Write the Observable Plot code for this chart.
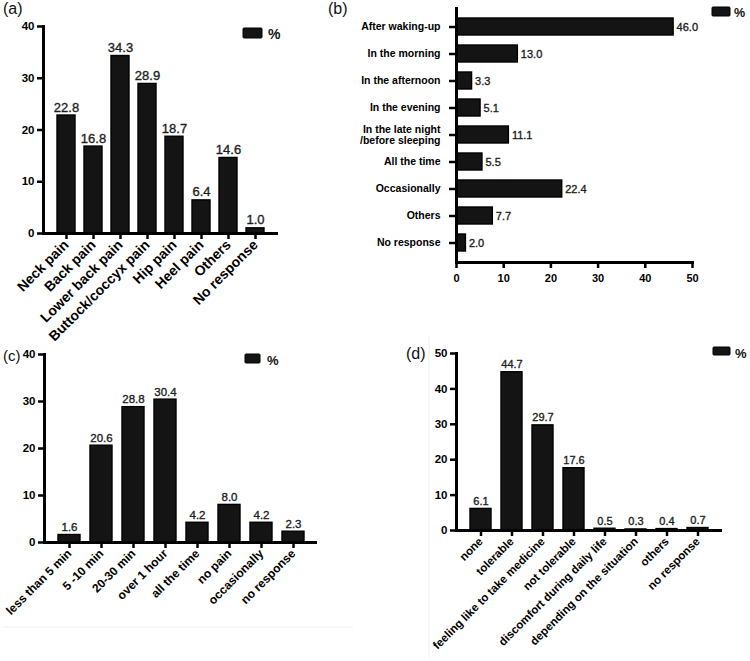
<!DOCTYPE html>
<html>
<head>
<meta charset="utf-8">
<script src="https://cdn.jsdelivr.net/npm/d3@7"></script>
<script src="https://cdn.jsdelivr.net/npm/@observablehq/plot@0.6"></script>
<style>
  body { margin: 0; background: #fff; }
  #root { position: relative; width: 750px; height: 661px; overflow: hidden; background: #fff; }
  .panel { position: absolute; }
  .panel svg { overflow: visible; }
</style>
</head>
<body>
<div id="root"></div>
<script>
// ---- data ----
const catsA = ["Neck pain", "Back pain", "Lower back pain", "Buttock/coccyx pain", "Hip pain", "Heel pain", "Others", "No response"];
const valsA = [22.8, 16.8, 34.3, 28.9, 18.7, 6.4, 14.6, 1.0];

const catsB = ["After waking-up", "In the morning", "In the afternoon", "In the evening", "In the late night\n/before sleeping", "All the time", "Occasionally", "Others", "No response"];
const valsB = [46.0, 13.0, 3.3, 5.1, 11.1, 5.5, 22.4, 7.7, 2.0];

const catsC = ["less than 5 min", "5 -10 min", "20-30 min", "over 1 hour", "all the time", "no pain", "occasionally", "no response"];
const valsC = [1.6, 20.6, 28.8, 30.4, 4.2, 8.0, 4.2, 2.3];

const catsD = ["none", "tolerable", "feeling like to take medicine", "not tolerable", "discomfort during daily life", "depending on the situation", "others", "no response"];
const valsD = [6.1, 44.7, 29.7, 17.6, 0.5, 0.3, 0.4, 0.7];

const ticksA = [0, 10, 20, 30, 40];
const ticksB = [0, 10, 20, 30, 40, 50];
const ticksC = [0, 10, 20, 30, 40];
const ticksD = [0, 10, 20, 30, 40, 50];

const legendLabel = "%";
const panelLetters = ["(a)", "(b)", "(c)", "(d)"];

// ---- helpers ----
const font = "'Liberation Sans', Arial, Helvetica, sans-serif";
const root = document.getElementById("root");
const toRows = (cats, vals) => cats.map((c, i) => ({cat: c, val: vals[i]}));
const fmt = d => d.val.toFixed(1);
const barFill = "#141414";
const ink = "#000";
const lineW = 3;
const tickW = 2.5;

function place(el, left, top) {
  const w = document.createElement("div");
  w.className = "panel";
  w.style.left = left + "px";
  w.style.top = top + "px";
  w.append(el);
  root.append(w);
}

const baseStyle = {fontFamily: font, background: "transparent", overflow: "visible", color: ink};

function vbars({cats, vals, ticks, width, height, mt, mb, ml, mr, pi, po, ymax, valSize, tickSize, ytickSize}) {
  const rows = toRows(cats, vals);
  return Plot.plot({
    width, height, marginTop: mt, marginBottom: mb, marginLeft: ml, marginRight: mr,
    style: baseStyle,
    x: {domain: cats, paddingInner: pi, paddingOuter: po},
    y: {domain: [0, ymax]},
    marks: [
      Plot.barY(rows, {x: "cat", y: "val", fill: barFill, stroke: "#000", strokeWidth: 1.4}),
      Plot.text(rows, {x: "cat", y: "val", text: fmt, dy: -4, lineAnchor: "bottom", fontSize: valSize, fill: "#1e1e1e", stroke: "#1e1e1e", strokeWidth: 0.35}),
      Plot.frame({anchor: "left", stroke: ink, strokeWidth: lineW}),
      Plot.ruleY([0], {stroke: ink, strokeWidth: lineW}),
      Plot.axisY({ticks, tickSize: 6, tickPadding: 3, fontSize: ytickSize, fontWeight: "bold", stroke: ink, strokeWidth: tickW, label: null}),
      Plot.axisX({tickRotate: -45, tickSize: 6, tickPadding: 3, fontSize: tickSize, fontWeight: "bold", stroke: ink, strokeWidth: tickW, label: null})
    ]
  });
}

// ---- panel (a) ----
place(vbars({cats: catsA, vals: valsA, ticks: ticksA, width: 380, height: 345, mt: 26, mb: 112, ml: 43, mr: 102,
  pi: 0.335, po: 0.39, ymax: 40, valSize: 13, tickSize: 14, ytickSize: 11.5}), 0, 0);

// ---- panel (b) ----
(() => {
  const rows = toRows(catsB, valsB);
  const p = Plot.plot({
    width: 370, height: 310, marginTop: 7, marginBottom: 48, marginLeft: 76, marginRight: 58,
    style: baseStyle,
    x: {domain: [0, 50]},
    y: {domain: catsB, paddingInner: 0.36, paddingOuter: 0.38},
    marks: [
      Plot.barX(rows, {y: "cat", x: "val", fill: barFill, stroke: "#000", strokeWidth: 1.4}),
      Plot.text(rows, {y: "cat", x: "val", text: fmt, dx: 3, textAnchor: "start", fontSize: 11, fill: "#1e1e1e", stroke: "#1e1e1e", strokeWidth: 0.35}),
      Plot.ruleX([0], {stroke: ink, strokeWidth: lineW}),
      Plot.frame({anchor: "bottom", stroke: ink, strokeWidth: lineW}),
      Plot.axisY({tickSize: 7, tickPadding: 9, fontSize: 10.5, fontWeight: "bold", stroke: ink, strokeWidth: tickW, label: null}),
      Plot.axisX({ticks: ticksB, tickSize: 6, tickPadding: 6, fontSize: 11, fontWeight: "bold", stroke: ink, strokeWidth: tickW, label: null})
    ]
  });
  place(p, 380, 0);
})();

// ---- panel (c) ----
place(vbars({cats: catsC, vals: valsC, ticks: ticksC, width: 380, height: 320, mt: 14, mb: 118, ml: 44, mr: 63,
  pi: 0.317, po: 0.4, ymax: 40, valSize: 11.5, tickSize: 12, ytickSize: 11.5}), 0, 340);

// ---- panel (d) ----
place(vbars({cats: catsD, vals: valsD, ticks: ticksD, width: 370, height: 321, mt: 13, mb: 131, ml: 76, mr: 28,
  pi: 0.31, po: 0.365, ymax: 50, valSize: 11, tickSize: 11.5, ytickSize: 11.5}), 380, 340);

// ---- overlay: panel letters, legends, faint page edges ----
const ns = "http://www.w3.org/2000/svg";
const ov = document.createElementNS(ns, "svg");
ov.setAttribute("width", 750); ov.setAttribute("height", 661);
ov.style.cssText = "position:absolute;left:0;top:0;pointer-events:none;font-family:" + font;
function add(tag, attrs, txt) {
  const e = document.createElementNS(ns, tag);
  for (const k in attrs) e.setAttribute(k, attrs[k]);
  if (txt != null) e.textContent = txt;
  ov.append(e);
}
add("line", {x1: 429, y1: 335, x2: 429, y2: 658, stroke: "#efefef", "stroke-width": 1});
add("line", {x1: 3, y1: 627, x2: 353, y2: 627, stroke: "#efefef", "stroke-width": 1});
const letters = [[3, 14, 16], [328, 14, 16], [3, 361, 15], [406, 359, 16]];
letters.forEach(([x, y, s], i) => add("text", {x, y, "font-size": s, fill: "#111"}, panelLetters[i]));
const legends = [
  [243, 28, 19, 10, 268, 39, 14],
  [712, 7, 18, 9, 734, 17, 12.5],
  [245, 354, 15, 9, 267, 365, 13],
  [713, 347, 17, 8, 735, 357.5, 13]
];
legends.forEach(([rx, ry, rw, rh, tx, ty, fs]) => {
  add("rect", {x: rx, y: ry, width: rw, height: rh, fill: barFill, stroke: "#000", "stroke-width": 1, rx: 1});
  add("text", {x: tx, y: ty, "font-size": fs, "font-weight": "bold", fill: "#111"}, legendLabel);
});
root.append(ov);
</script>
</body>
</html>
